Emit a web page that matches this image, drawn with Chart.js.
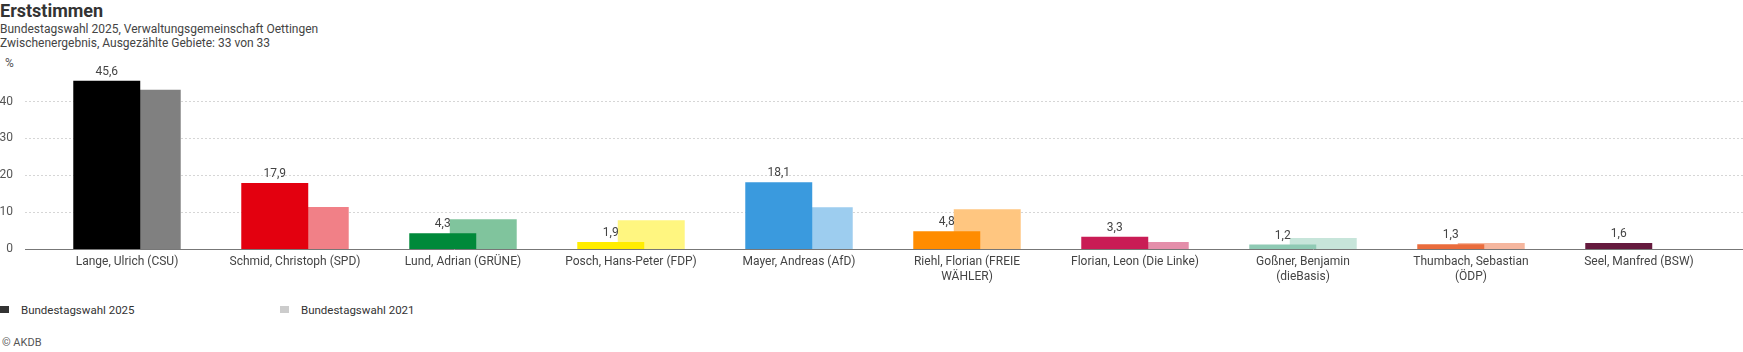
<!DOCTYPE html>
<html>
<head>
<meta charset="utf-8">
<script src="https://cdn.jsdelivr.net/npm/chart.js@4.4.1/dist/chart.umd.min.js"></script>
<style>
  body { margin: 0; background: #fff; font-family: Roboto, sans-serif; color: #333; }
  #wrap { position: relative; width: 1743px; height: 352px; overflow: hidden; }
  #title { position: absolute; left: 0; top: 0; font-size: 18px; font-weight: bold; color: #333; }
  #sub { position: absolute; left: 0; top: 22px; font-size: 12px; line-height: 14px; color: #444; }
  #pct { position: absolute; left: 5px; top: 56px; font-size: 12px; color: #555; }
  #myChart { position: absolute; left: 0; top: 50px; }
  #legend { position: absolute; left: 0; top: 303px; font-size: 11.5px; color: #333; }
  .item { position: absolute; top: 0; white-space: nowrap; }
  .box { display: inline-block; width: 9px; height: 7px; margin-right: 12px; vertical-align: 1px; }
  #footer { position: absolute; left: 2px; top: 336px; font-size: 11px; color: #555; }
</style>
</head>
<body>
<div id="wrap">
  <div id="title">Erststimmen</div>
  <div id="sub">Bundestagswahl 2025, Verwaltungsgemeinschaft Oettingen<br>Zwischenergebnis, Ausgezählte Gebiete: 33 von 33</div>
  <div id="pct">%</div>
  <canvas id="myChart" width="1743" height="245"></canvas>
  <div id="legend"></div>
  <div id="footer">© AKDB</div>
</div>
<script>
// candidates ..................
var candidates = [
  "Lange, Ulrich (CSU)",
  "Schmid, Christoph (SPD)",
  "Lund, Adrian (GRÜNE)",
  "Posch, Hans-Peter (FDP)",
  "Mayer, Andreas (AfD)",
  "Riehl, Florian (FREIE WÄHLER)",
  "Florian, Leon (Die Linke)",
  "Goßner, Benjamin (dieBasis)",
  "Thumbach, Sebastian (ÖDP)",
  "Seel, Manfred (BSW)"
];

// results in %
var votes2025 = [45.6, 17.9, 4.3, 1.9, 18.1, 4.8, 3.3, 1.2, 1.3, 1.6];
var votes2021 = [43.2, 11.4, 8.1, 7.8, 11.3, 10.8, 1.9, 3.0, 1.6, null];

var colors2025 = ["#000000", "#e3000f", "#00893a", "#ffed00", "#3a9ade", "#ff8c00", "#c91c55", "#8fcab4", "#ea6c3c", "#651a3e"];
var colors2021 = ["#808080", "#f18087", "#80c49d", "#fff680", "#9dcdef", "#ffc680", "#e48eaa", "#c7e5da", "#f5b69e", "#b28d9f"];

var seriesNames = ["Bundestagswahl 2025", "Bundestagswahl 2021"];
var legendColors = ["#333333", "#cccccc"];
var yTicks = [0, 10, 20, 30, 40];
var yMax = 48;

var font = "Roboto, sans-serif";

// wrap long names like the original (max ~140px)
var measureCtx = document.createElement("canvas").getContext("2d");
measureCtx.font = "12px " + font;
function wrap(text) {
  var words = text.split(" ");
  var lines = [];
  var line = "";
  words.forEach(function (w) {
    var test = line ? line + " " + w : w;
    if (line && measureCtx.measureText(test).width > 140) {
      lines.push(line);
      line = w;
    } else {
      line = test;
    }
  });
  lines.push(line);
  return lines;
}

// dashed grid + base line across the whole width
var gridPlugin = {
  id: "gridPlugin",
  beforeDatasetsDraw: function (chart) {
    var ctx = chart.ctx;
    var y = chart.scales.y;
    ctx.save();
    ctx.lineWidth = 1;
    yTicks.forEach(function (t) {
      var py = Math.round(y.getPixelForValue(t)) + 0.5;
      ctx.beginPath();
      if (t === 0) {
        ctx.setLineDash([]);
        ctx.strokeStyle = "#777";
      } else {
        ctx.setLineDash([2, 2]);
        ctx.strokeStyle = "#d6d6d6";
      }
      ctx.moveTo(25, py);
      ctx.lineTo(chart.width, py);
      ctx.stroke();
    });
    ctx.restore();
  }
};

// value labels on top of the 2025 bars
var valuePlugin = {
  id: "valuePlugin",
  afterDatasetsDraw: function (chart) {
    var ctx = chart.ctx;
    var meta = chart.getDatasetMeta(0);
    ctx.save();
    ctx.font = "12px " + font;
    ctx.fillStyle = "#444";
    ctx.textAlign = "center";
    ctx.textBaseline = "bottom";
    meta.data.forEach(function (bar, i) {
      var v = votes2025[i];
      if (v == null) return;
      ctx.fillText(v.toLocaleString("de-DE", { minimumFractionDigits: 1 }), bar.x, bar.y - 3);
    });
    ctx.restore();
  }
};

var myChart = new Chart("myChart", {
  type: "bar",
  data: {
    labels: candidates.map(wrap),
    datasets: [{
      label: seriesNames[0],
      data: votes2025,
      backgroundColor: colors2025
    }, {
      label: seriesNames[1],
      data: votes2021,
      backgroundColor: colors2021
    }]
  },
  options: {
    responsive: false,
    animation: false,
    categoryPercentage: 0.482,
    barPercentage: 1.654,
    layout: {
      padding: { top: 22, right: 20, left: 0, bottom: 0 }
    },
    plugins: {
      legend: { display: false },
      tooltip: { enabled: false }
    },
    scales: {
      x: {
        grid: { display: false, drawTicks: false },
        border: { display: false },
        ticks: {
          color: "#444",
          font: { family: font, size: 12 },
          padding: 6,
          maxRotation: 0,
          autoSkip: false
        },
        afterFit: function (scale) { scale.height = 46; }
      },
      y: {
        min: 0,
        max: yMax,
        grid: { display: false, drawTicks: false },
        border: { display: false },
        ticks: {
          stepSize: 10,
          color: "#555",
          font: { family: font, size: 12 },
          padding: 30
        },
        afterBuildTicks: function (scale) {
          scale.ticks = yTicks.map(function (v) { return { value: v }; });
        },
        afterFit: function (scale) {
          scale.width = 43;
          scale.paddingTop = 0;
          scale.paddingBottom = 0;
        }
      }
    }
  },
  plugins: [gridPlugin, valuePlugin]
});

// legend.........
var legend = document.getElementById("legend");
seriesNames.forEach(function (name, i) {
  var item = document.createElement("div");
  item.className = "item";
  item.style.left = (i * 280) + "px";
  item.innerHTML = '<span class="box" style="background:' + legendColors[i] + '"></span>' + name;
  legend.appendChild(item);
});
</script>
</body>
</html>
